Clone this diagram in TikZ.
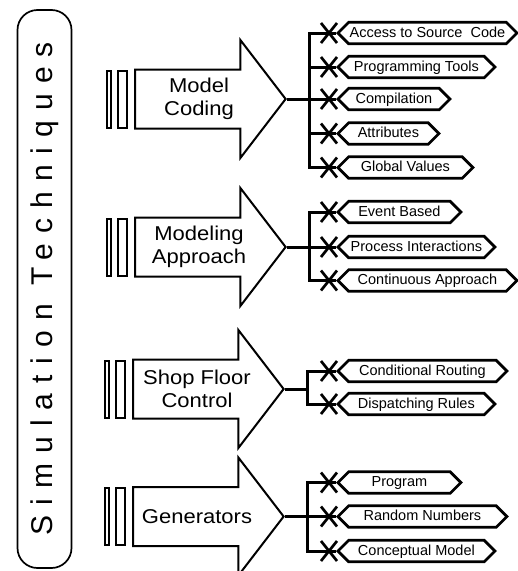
\documentclass[tikz,border=0pt]{standalone}
\usepackage{fontspec}
\setmainfont{Liberation Sans}[FakeStretch=1.1]
\newfontfamily\boxfont{Liberation Sans}
\newfontfamily\titlefont{Liberation Sans}[LetterSpace=34]
\usetikzlibrary{positioning, shapes.arrows, shapes.symbols, decorations.markings}
\tikzstyle{Title} = [draw, line width=1.7pt, rounded corners=20pt, rotate=90,
minimum width=558pt, minimum height=54pt, inner sep=0pt,
font=\titlefont\fontsize{30}{36}\selectfont]
\tikzstyle{BigArrow} = [draw, line width=2pt, single arrow,
single arrow head extend=29.5pt, single arrow tip angle=105,
inner xsep=63pt, inner ysep=28.5pt]
\tikzstyle{ArrowText} = [align=center, font=\fontsize{20}{23}\selectfont]
\tikzstyle{Bar} = [draw, line width=2pt, minimum height=57pt, inner sep=0pt]
\tikzstyle{Hex} = [draw, line width=2.7pt, signal, signal to=west and east,
signal pointer angle=90, minimum height=21.5pt, text height=11pt, text depth=3pt,
inner xsep=1pt, inner ysep=3.75pt, anchor=west,
font=\boxfont\fontsize{14.5}{17}\selectfont]
\tikzstyle{Link} = [
line width=3pt,
decoration={
markings,
mark=at position 0.9999 with {
\draw[line width=2.7pt] (-15pt,-10pt) -- (1pt,10pt) (-15pt,10pt) -- (1pt,-10pt);}},
preaction = {decorate}]

\begin{document}
\begin{tikzpicture}[x=1pt, y=-1pt]
    \useasboundingbox (0,0) rectangle (518,571);
    \node [Title] (title) at (44.5,289) {Simulation Techniques};

    % the four big arrows
    \node [BigArrow, label={[ArrowText]center:Model\\Coding}] (mc) at (199,99) {};
    \node [Bar, minimum width=9.5pt, left=5.5pt of mc.west] (mcb2) {};
    \node [Bar, minimum width=4pt, left=5pt of mcb2] (mcb1) {};

    \node [BigArrow, label={[ArrowText]center:Modeling\\Approach}] (ma) at (199,247) {};
    \node [Bar, minimum width=9.5pt, left=5.5pt of ma.west] (mab2) {};
    \node [Bar, minimum width=4pt, left=5pt of mab2] (mab1) {};

    \node [BigArrow, label={[ArrowText]center:Shop Floor\\Control}] (sf) at (197,389) {};
    \node [Bar, minimum width=9.5pt, left=5.5pt of sf.west] (sfb2) {};
    \node [Bar, minimum width=4pt, left=5pt of sfb2] (sfb1) {};

    \node [BigArrow, label={[ArrowText]center:Generators}] (gen) at (197,516.5) {};
    \node [Bar, minimum width=9.5pt, left=5.5pt of gen.west] (genb2) {};
    \node [Bar, minimum width=4pt, left=5pt of genb2] (genb1) {};

    % the boxes
    \node [Hex, minimum width=179pt] (mc1) at (336,33) {Access to Source\ \ Code};
    \node [Hex, minimum width=157pt] (mc2) at (336,67) {Programming Tools};
    \node [Hex, minimum width=112pt] (mc3) at (336,99) {Compilation};
    \node [Hex, minimum width=101pt] (mc4) at (336,133.5) {Attributes};
    \node [Hex, minimum width=135pt] (mc5) at (336,167.5) {Global Values};

    \node [Hex, minimum width=123pt] (ma1) at (336,212) {Event Based};
    \node [Hex, minimum width=157pt] (ma2) at (336,247) {Process Interactions};
    \node [Hex, minimum width=179pt] (ma3) at (336,280.5) {Continuous Approach};

    \node [Hex, minimum width=169pt] (sf1) at (336,371) {Conditional Routing};
    \node [Hex, minimum width=157pt] (sf2) at (336,404) {Dispatching Rules};

    \node [Hex, minimum width=123pt] (gen1) at (336,482.5) {Program};
    \node [Hex, minimum width=169pt] (gen2) at (336,516.5) {Random Numbers};
    \node [Hex, minimum width=157pt] (gen3) at (336,551) {Conceptual Model};

    \coordinate (mcj) at ([xshift=22.5pt]mc.tip);
    \coordinate (maj) at ([xshift=22.5pt]ma.tip);
    \coordinate (sfj) at ([xshift=22.5pt]sf.tip);
    \coordinate (genj) at ([xshift=22.5pt]gen.tip);

    \draw[Link] (mc.tip) -- (mc3.west);
    \draw[Link] (mcj) |- (mc1.west);
    \draw[Link] (mcj) |- (mc2.west);
    \draw[Link] (mcj) |- (mc4.west);
    \draw[Link] (mcj) |- (mc5.west);

    \draw[Link] (ma.tip) -- (ma2.west);
    \draw[Link] (maj) |- (ma1.west);
    \draw[Link] (maj) |- (ma3.west);

    \draw[line width=3pt] (sf.tip) -- (sfj);
    \draw[Link] (sfj) |- (sf1.west);
    \draw[Link] (sfj) |- (sf2.west);

    \draw[Link] (gen.tip) -- (gen2.west);
    \draw[Link] (genj) |- (gen1.west);
    \draw[Link] (genj) |- (gen3.west);
\end{tikzpicture}
\end{document}
